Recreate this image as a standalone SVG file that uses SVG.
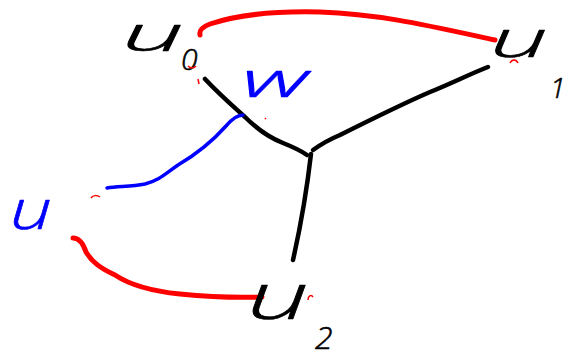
<svg xmlns="http://www.w3.org/2000/svg" width="567" height="359" viewBox="0 0 567 359">
<style>
.lbl{font-family:"Open Sans","Liberation Sans",sans-serif;font-style:italic;font-weight:300;stroke-width:0.6;stroke-linejoin:round;}
.blk{fill:#000;stroke:#000;}
.blu{fill:#0000ff;stroke:#0000ff;}
.e{fill:none;stroke-linecap:round;stroke-linejoin:round;}
.k{stroke:#000;stroke-width:4.5;}
.r{stroke:#ff0000;stroke-width:5;}
.b{stroke:#0000ff;stroke-width:3.5;}
.m{stroke:#ff0000;stroke-width:1.5;fill:none;}
</style>
<rect width="567" height="359" fill="#fff"/>
<g id="connectors">
<path class="e r" d="M200,35 C199,30 202,27 210,24 C240,14 280,11 320,12 C380,14 430,26 495,40"/>
<path class="e k" d="M205,79 C220,95 235,108 245,117 C258,130 270,138 283,143 C293,147 300,150 307,155"/>
<path class="e k" d="M313,150 C320,145 328,140 340,135 C370,120 400,105 430,92 C450,84 470,74 488,67"/>
<path class="e k" d="M311,154 C308,180 302,220 293,260"/>
<path class="e b" d="M243,115 C238,115 232,119 226,126 C210,144 195,155 178,165 C165,174 160,180 145,184 C130,187 118,186 107,188"/>
<path class="e r" d="M73,238 C78,238 83,243 86,252 C92,262 100,268 115,275 C130,285 150,291 180,294 C210,297 235,298 262,297"/>
</g>
<g id="u0">
<text class="lbl blk" x="122" y="51" font-size="47" textLength="62" lengthAdjust="spacingAndGlyphs">u</text>
<text class="lbl blk" x="181" y="70" font-size="30">0</text>
</g>
<g id="u1">
<text class="lbl blk" x="490" y="57" font-size="52" textLength="58" lengthAdjust="spacingAndGlyphs">u</text>
<text class="lbl blk" x="550" y="98" font-size="28">1</text>
</g>
<g id="w">
<text class="lbl blu" x="242" y="97" font-size="48" textLength="66" lengthAdjust="spacingAndGlyphs">w</text>
</g>
<g id="u">
<text class="lbl blu" x="10" y="229" font-size="56" textLength="42" lengthAdjust="spacingAndGlyphs">u</text>
</g>
<g id="u2">
<text class="lbl blk" x="247" y="319" font-size="64" textLength="62" lengthAdjust="spacingAndGlyphs">u</text>
<text class="lbl blk" x="315" y="349" font-size="32">2</text>
</g>
<g id="marks">
<path class="m" d="M188,66 C191,69 194,68 196,66"/>
<path class="m" d="M198,79 L199,84"/>
<path class="m" d="M265,118 L266,119"/>
<path class="m" d="M510,63 C512,59 516,59 518,63"/>
<path class="m" d="M91,198 C93,195 97,195 100,197"/>
<path class="m" d="M308,300 C308,296 311,294 313,297"/>
</g>
</svg>
